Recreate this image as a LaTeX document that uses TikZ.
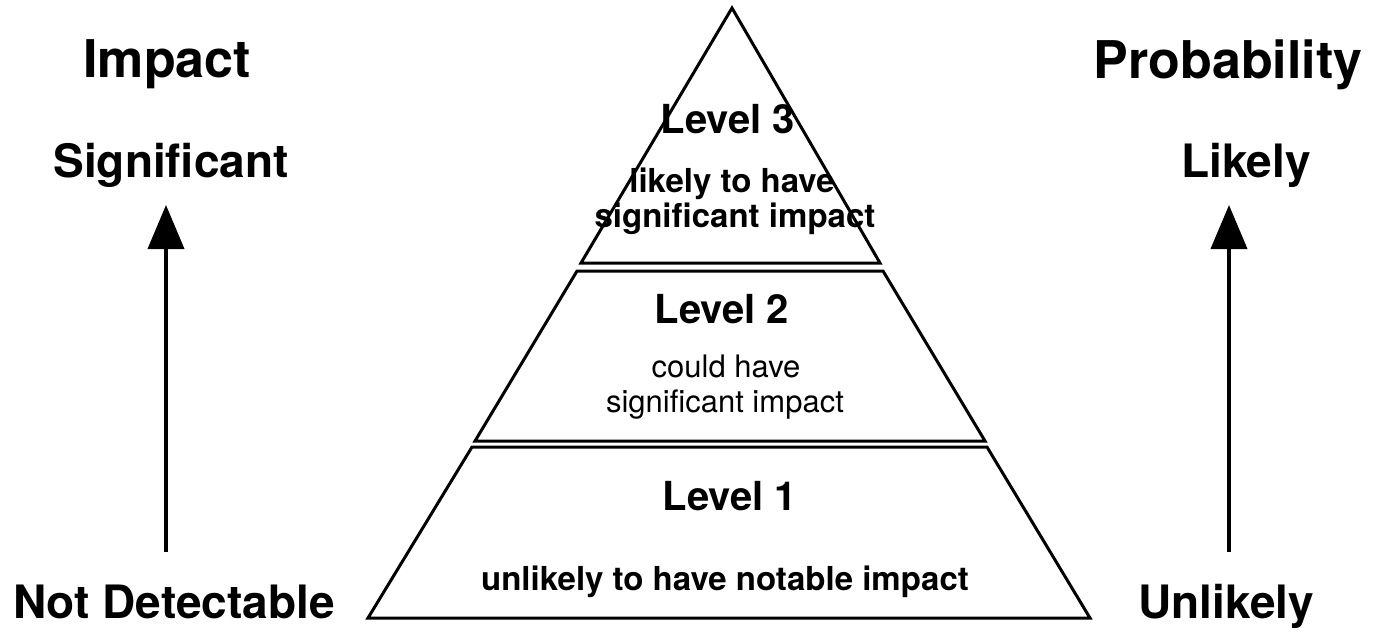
\documentclass[tikz,border=0pt]{standalone}
\usepackage{fontspec}
\setmainfont{TeX Gyre Heros}
\usetikzlibrary{arrows.meta}
\tikzstyle{band} = [draw, line width=1.5pt, line join=miter]
\tikzstyle{axis} = [line width=2pt, -{Triangle[length=22pt, width=18pt]}]
\tikzstyle{title} = [anchor=base, font=\fontsize{26}{30}\selectfont\bfseries]
\tikzstyle{endlabel} = [anchor=base, font=\fontsize{23}{27}\selectfont\bfseries]
\tikzstyle{lvl} = [anchor=base, font=\fontsize{20}{24}\selectfont\bfseries]
\tikzstyle{note} = [anchor=base, font=\fontsize{16.5}{20}\selectfont\bfseries]
\tikzstyle{plain} = [anchor=base, font=\fontsize{15.5}{19}\selectfont]

\begin{document}
\begin{tikzpicture}[x=0.5pt, y=-0.5pt]
  \useasboundingbox (0,0) rectangle (1373,632);
  % pyramid, cut in three bands
  \draw[band] (732,8) -- (880,263) -- (581,263) -- cycle;
  \draw[band] (577,271) -- (883,271) -- (985,441) -- (475,441) -- cycle;
  \draw[band] (472,447) -- (987,447) -- (1090,618) -- (368,618) -- cycle;

  \node[lvl] (lev3) at (728,133) {Level 3};
  \node[note] (lev3a) at (732,192) {likely to have};
  \node[note] (lev3b) at (735,227) {significant impact};
  \node[lvl] (lev2) at (722,323) {Level 2};
  \node[plain] (lev2a) at (726,377) {could have};
  \node[plain] (lev2b) at (725,412) {significant impact};
  \node[lvl] (lev1) at (730,510) {Level 1};
  \node[note] (lev1a) at (725,590) {unlikely to have notable impact};

  % impact scale, left
  \node[title] (impact) at (167,77) {Impact};
  \node[endlabel] (sig) at (171,177) {Significant};
  \node[endlabel] (notdet) at (174,618) {Not Detectable};
  \coordinate (impLo) at (166,552);
  \coordinate (impHi) at (166,205);
  \draw[axis] (impLo) -- (impHi);

  % probability scale, right
  \node[title] (prob) at (1228,78) {Probability};
  \node[endlabel] (likely) at (1246,177) {Likely};
  \node[endlabel] (unlikely) at (1226,618) {Unlikely};
  \coordinate (probLo) at (1229,552);
  \coordinate (probHi) at (1229,205);
  \draw[axis] (probLo) -- (probHi);
\end{tikzpicture}
\end{document}
